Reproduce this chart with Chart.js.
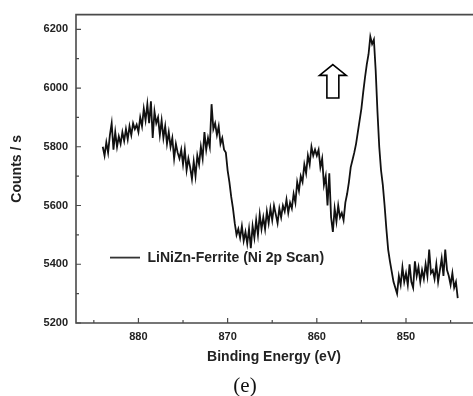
<!DOCTYPE html>
<html>
<head>
<meta charset="utf-8">
<script src="https://cdn.jsdelivr.net/npm/chart.js@4.4.1/dist/chart.umd.min.js"></script>
<style>
html,body{margin:0;padding:0;background:#fff;overflow:hidden;}
#wrap{position:relative;width:473px;height:396px;}
#c{position:absolute;left:0;top:0;}
#cap{position:absolute;left:245px;top:375px;transform:translateX(-50%);font-family:"Liberation Serif","Times New Roman",serif;font-size:21px;line-height:21px;color:#111;white-space:nowrap;}
</style>
</head>
<body>
<div id="wrap"><canvas id="c" width="473" height="396"></canvas><div id="cap">(e)</div></div>
<script>
const seriesLabel = 'LiNiZn-Ferrite (Ni 2p Scan)';
const xTitle = 'Binding Energy (eV)';
const yTitle = 'Counts / s';

const energy = [
884.0,883.8,883.6,883.4,883.2, 883.0,882.8,882.6,882.4,882.2,
882.0,881.8,881.6,881.4,881.2, 881.0,880.8,880.6,880.4,880.2,
880.0,879.8,879.6,879.4,879.2, 879.0,878.8,878.6,878.4,878.2,
878.0,877.8,877.6,877.4,877.2, 877.0,876.8,876.6,876.4,876.2,
876.0,875.8,875.6,875.4,875.2, 875.0,874.8,874.6,874.4,874.2,
874.0,873.8,873.6,873.4,873.2, 873.0,872.8,872.6,872.4,872.2,
872.0,871.8,871.6,871.4,871.2, 871.0,870.8,870.6,870.4,870.2,
870.0,869.8,869.6,869.4,869.2, 869.0,868.8,868.6,868.4,868.2,
868.0,867.8,867.6,867.4,867.2, 867.0,866.8,866.6,866.4,866.2,
866.0,865.8,865.6,865.4,865.2, 865.0,864.8,864.6,864.4,864.2,
864.0,863.8,863.6,863.4,863.2, 863.0,862.8,862.6,862.4,862.2,
862.0,861.8,861.6,861.4,861.2, 861.0,860.8,860.6,860.4,860.2,
860.0,859.8,859.6,859.4,859.2, 859.0,858.8,858.6,858.4,858.2,
858.0,857.8,857.6,857.4,857.2, 857.0,856.8,856.6,856.4,856.2,
856.0,855.8,855.6,855.4,855.2, 855.0,854.8,854.6,854.4,854.2,
854.0,853.8,853.6,853.4,853.2, 853.0,852.8,852.6,852.4,852.2,
852.0,851.8,851.6,851.4,851.2, 851.0,850.8,850.6,850.4,850.2,
850.0,849.8,849.6,849.4,849.2, 849.0,848.8,848.6,848.4,848.2,
848.0,847.8,847.6,847.4,847.2, 847.0,846.8,846.6,846.4,846.2,
846.0,845.8,845.6,845.4,845.2, 845.0,844.8,844.6,844.4,844.2
];

const counts = [
5800,5770,5815,5780,5840, 5880,5790,5850,5800,5835,
5810,5850,5820,5860,5825, 5870,5840,5880,5860,5875,
5850,5900,5870,5930,5890, 5945,5880,5955,5830,5920,
5880,5900,5840,5890,5830, 5870,5810,5850,5800,5830,
5760,5810,5780,5760,5790, 5740,5790,5720,5760,5730,
5690,5750,5700,5770,5740, 5800,5760,5850,5790,5830,
5800,5945,5860,5880,5840, 5870,5810,5830,5790,5780,
5720,5680,5630,5590,5540, 5500,5520,5490,5530,5480,
5510,5470,5520,5455,5530, 5490,5550,5500,5570,5520,
5560,5520,5580,5540,5590, 5550,5600,5570,5540,5590,
5560,5600,5580,5620,5575, 5610,5590,5640,5610,5680,
5650,5700,5680,5740,5710, 5770,5740,5800,5770,5790,
5770,5790,5730,5760,5670, 5700,5600,5710,5560,5510,
5590,5545,5600,5560,5575, 5550,5610,5640,5680,5730,
5755,5780,5810,5850,5890, 5930,5985,6035,6080,6115,
6175,6150,6165,6060,5920, 5800,5720,5670,5600,5520,
5450,5410,5375,5340,5320, 5300,5360,5330,5390,5340,
5370,5330,5400,5340,5320, 5410,5360,5390,5340,5380,
5350,5400,5360,5450,5370, 5380,5350,5400,5340,5380,
5420,5360,5450,5380,5360, 5330,5370,5320,5340,5285
];

// axis ranges & ticks
const xRange = [842.6, 887];
const yRange = [5200, 6250];
const xStep = 5, xLabelEvery = 10;
const yStep = 100, yLabelEvery = 200;

// hollow arrow annotation (data units)
const arrowSpec = {x: 858.2, tip: 6080, neck: 6043, base: 5966, headHalf: 1.5, shaftHalf: 0.67};

const points = energy.map((e, i) => ({x: e, y: counts[i]}));
const FONT = '"Liberation Sans", Arial, sans-serif';
const AXIS_COLOR = '#4a4a4a';

const decor = {
  id: 'decor',
  afterDatasetsDraw(chart) {
    const {ctx, chartArea: a, scales: {x, y}} = chart;
    ctx.save();
    ctx.strokeStyle = AXIS_COLOR;
    ctx.lineWidth = 1.6;
    ctx.beginPath();
    ctx.moveTo(chart.width, a.top);
    ctx.lineTo(a.left, a.top);
    ctx.lineTo(a.left, a.bottom);
    ctx.lineTo(chart.width, a.bottom);
    ctx.stroke();
    ctx.lineWidth = 1.2;
    ctx.beginPath();
    x.ticks.forEach(t => {
      const px = x.getPixelForValue(t.value);
      const len = (Math.round(t.value) % xLabelEvery === 0) ? 5 : 3;
      ctx.moveTo(px, a.bottom);
      ctx.lineTo(px, a.bottom - len);
    });
    y.ticks.forEach(t => {
      const py = y.getPixelForValue(t.value);
      const len = (Math.round(t.value) % yLabelEvery === 0) ? 5 : 3;
      ctx.moveTo(a.left, py);
      ctx.lineTo(a.left + len, py);
    });
    ctx.stroke();
    const ds = chart.data.datasets[0];
    const ly = a.top + 243;
    ctx.strokeStyle = '#333';
    ctx.lineWidth = 1.8;
    ctx.beginPath();
    ctx.moveTo(a.left + 34, ly);
    ctx.lineTo(a.left + 64, ly);
    ctx.stroke();
    ctx.fillStyle = '#222';
    ctx.font = 'bold 14px ' + FONT;
    ctx.textBaseline = 'middle';
    ctx.textAlign = 'left';
    ctx.fillText(ds.label, a.left + 71.5, ly + 1);
    const s = arrowSpec;
    const cx = x.getPixelForValue(s.x);
    const hw = Math.abs(x.getPixelForValue(s.x + s.headHalf) - cx);
    const sw = Math.abs(x.getPixelForValue(s.x + s.shaftHalf) - cx);
    const yt = y.getPixelForValue(s.tip), yn = y.getPixelForValue(s.neck), yb = y.getPixelForValue(s.base);
    ctx.beginPath();
    ctx.moveTo(cx, yt);
    ctx.lineTo(cx + hw, yn);
    ctx.lineTo(cx + sw, yn);
    ctx.lineTo(cx + sw, yb);
    ctx.lineTo(cx - sw, yb);
    ctx.lineTo(cx - sw, yn);
    ctx.lineTo(cx - hw, yn);
    ctx.closePath();
    ctx.fillStyle = '#fff';
    ctx.fill();
    ctx.strokeStyle = '#000';
    ctx.lineWidth = 1.6;
    ctx.lineJoin = 'miter';
    ctx.stroke();
    ctx.restore();
  }
};

new Chart(document.getElementById('c'), {
  type: 'line',
  data: {
    datasets: [{
      label: seriesLabel,
      data: points,
      borderColor: '#111',
      borderWidth: 1.8,
      pointRadius: 0,
      tension: 0,
      fill: false
    }]
  },
  options: {
    responsive: false,
    animation: false,
    devicePixelRatio: 1,
    layout: {padding: {top: 10, right: 1, bottom: 30, left: 0}},
    plugins: {legend: {display: false}, tooltip: {enabled: false}},
    scales: {
      x: {
        type: 'linear',
        reverse: true,
        min: xRange[0], max: xRange[1],
        grid: {display: false, drawTicks: false},
        border: {display: false},
        ticks: {
          stepSize: xStep, autoSkip: false, includeBounds: false, maxRotation: 0,
          padding: 7, color: '#222',
          font: {family: FONT, size: 11, weight: 'bold'},
          callback: v => (Math.round(v) % xLabelEvery === 0 ? String(v) : '')
        },
        title: {display: true, text: xTitle, color: '#222', padding: {top: 0, bottom: 0},
          font: {family: FONT, size: 14, weight: 'bold'}},
        afterFit: s => { s.height = 43; }
      },
      y: {
        type: 'linear',
        min: yRange[0], max: yRange[1],
        grid: {display: false, drawTicks: false},
        border: {display: false},
        ticks: {
          stepSize: yStep, autoSkip: false, includeBounds: false,
          padding: 8, color: '#222',
          font: {family: FONT, size: 11, weight: 'bold'},
          callback: v => (Math.round(v) % yLabelEvery === 0 ? String(v) : '')
        },
        title: {display: true, text: yTitle, color: '#222', padding: {top: 9, bottom: 0},
          font: {family: FONT, size: 14, weight: 'bold'}},
        afterFit: s => { s.width = 76; }
      }
    }
  },
  plugins: [decor]
});
</script>
</body>
</html>
